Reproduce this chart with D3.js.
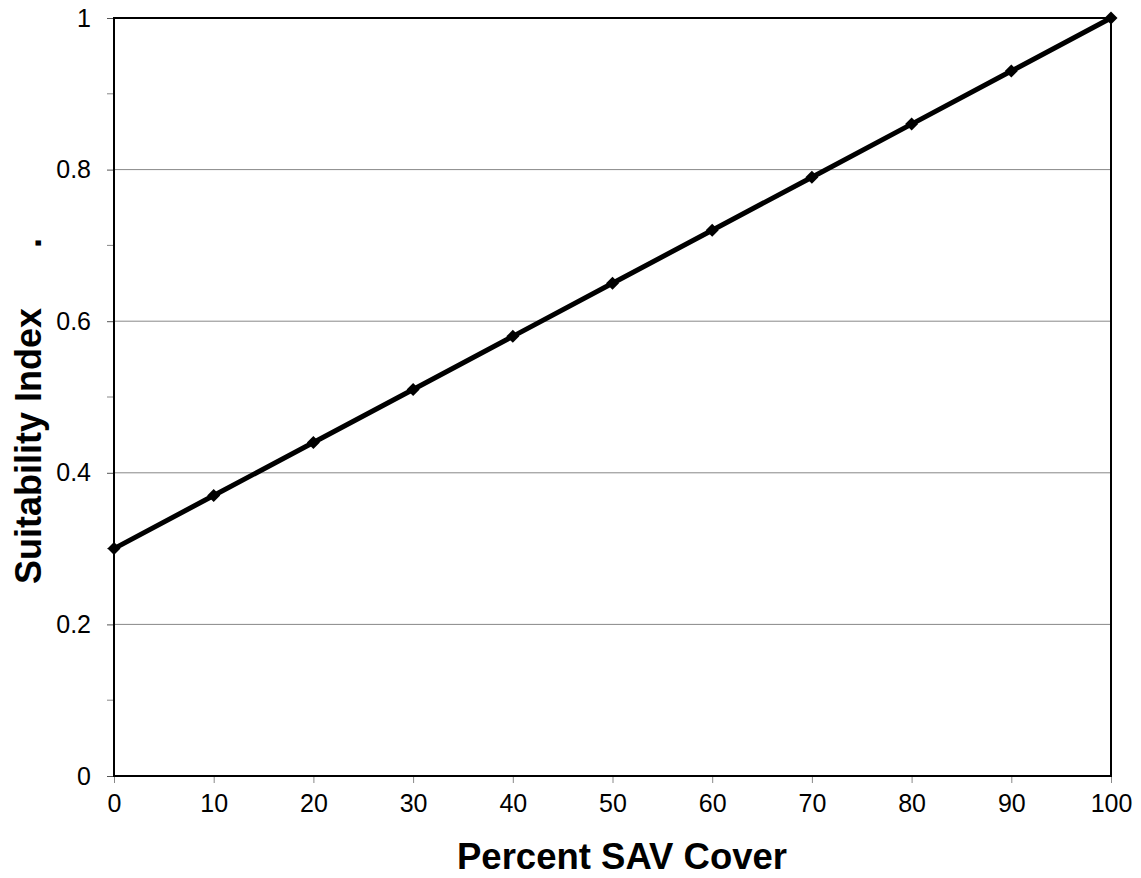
<!DOCTYPE html>
<html><head><meta charset="utf-8">
<script src="https://cdn.jsdelivr.net/npm/d3@7"></script>
<style>body{margin:0;background:#fff}svg{display:block}text{font-family:Arial,"Liberation Sans",sans-serif}</style>
</head><body>
<script>
const xValues = [0,10,20,30,40,50,60,70,80,90,100];
const yValues = [0.3,0.37,0.44,0.51,0.58,0.65,0.72,0.79,0.86,0.93,1.0];
const xTicks = [0,10,20,30,40,50,60,70,80,90,100];
const yTicks = [0,0.2,0.4,0.6,0.8,1];
const yMinorTicks = [0.1,0.3,0.5,0.7,0.9];
const xTitle = "Percent SAV Cover";
const yTitle = "Suitability Index      .";

const W=1141,H=878;
const m={l:114,t:18,r:1111,b:776};
const svg=d3.select("body").append("svg").attr("width",W).attr("height",H);
const x=d3.scaleLinear().domain([0,100]).range([m.l,m.r]);
const y=d3.scaleLinear().domain([0,1]).range([m.b,m.t]);

// gridlines
svg.append("g").selectAll("line").data(yTicks.filter(d=>d>0&&d<1)).join("line")
 .attr("x1",m.l).attr("x2",m.r).attr("y1",d=>y(d)).attr("y2",d=>y(d))
 .attr("stroke","#888").attr("stroke-width",1);

// y axis
const ya=svg.append("g").attr("transform",`translate(${m.l},0)`)
 .call(d3.axisLeft(y).tickValues(yTicks).tickFormat(d3.format("")).tickSize(7).tickPadding(16));
ya.select(".domain").remove();
ya.selectAll("line").attr("stroke","#555");
ya.selectAll("text").attr("font-size",25).attr("fill","#000");
svg.append("g").selectAll("line").data(yMinorTicks).join("line")
 .attr("x1",m.l-7).attr("x2",m.l).attr("y1",d=>y(d)).attr("y2",d=>y(d)).attr("stroke","#888");

// x axis
const xa=svg.append("g").attr("transform",`translate(0,${m.b})`)
 .call(d3.axisBottom(x).tickValues(xTicks).tickSize(7).tickPadding(11));
xa.select(".domain").remove();
xa.selectAll("line").attr("stroke","#888");
xa.selectAll("text").attr("font-size",25).attr("fill","#000");

// frame
svg.append("rect").attr("x",m.l).attr("y",m.t).attr("width",m.r-m.l).attr("height",m.b-m.t)
 .attr("fill","none").attr("stroke","#000").attr("stroke-width",2);

// line
svg.append("path").datum(xValues.map((v,i)=>[v,yValues[i]]))
 .attr("d",d3.line().x(d=>x(d[0])).y(d=>y(d[1])))
 .attr("fill","none").attr("stroke","#000").attr("stroke-width",5);
svg.append("g").selectAll("path").data(xValues.map((v,i)=>[v,yValues[i]])).join("path")
 .attr("transform",d=>`translate(${x(d[0])},${y(d[1])})`)
 .attr("d","M0,-6.5L6.5,0L0,6.5L-6.5,0Z").attr("fill","#000");

// titles
svg.append("text").attr("x",622).attr("y",869).attr("text-anchor","middle")
 .attr("font-size",36.5).attr("font-weight","bold").text(xTitle);
svg.append("text").attr("transform",`translate(41,584) rotate(-90)`)
 .attr("text-anchor","start").attr("font-size",36).attr("font-weight","bold")
 .style("white-space","pre").text(yTitle);
</script>
</body></html>
